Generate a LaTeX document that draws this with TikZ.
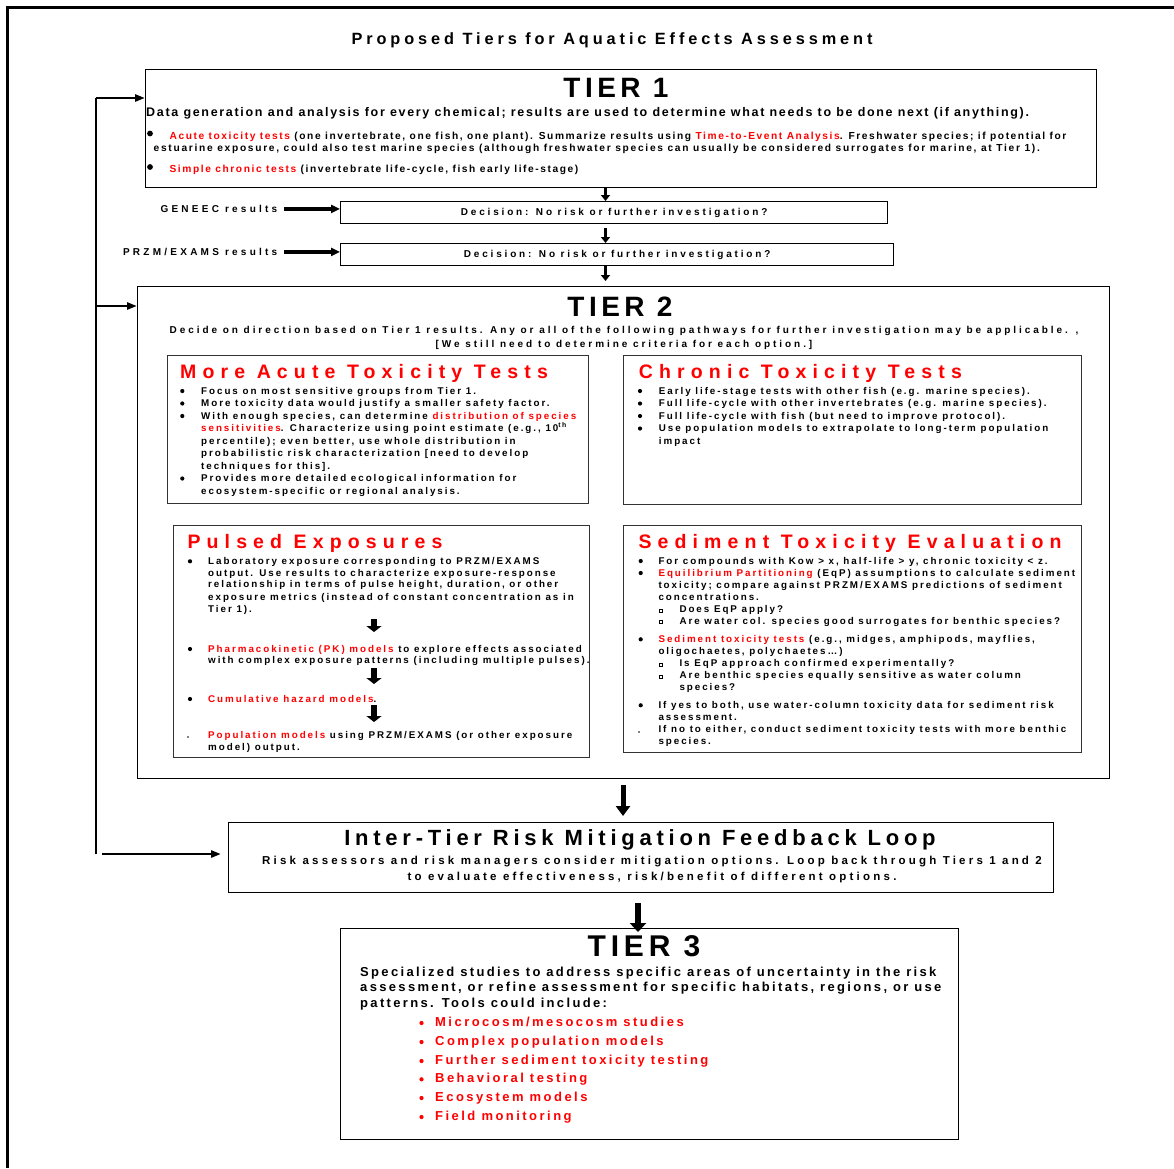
\documentclass[tikz,border=0pt]{standalone}
\usepackage{fontspec}
\setmainfont{Liberation Sans}
\newfontfamily\fTitle[LetterSpace=24]{Liberation Sans}
\newfontfamily\fTier[LetterSpace=16]{Liberation Sans}
\newfontfamily\fTone[LetterSpace=13.5]{Liberation Sans}
\newfontfamily\fTbul[LetterSpace=15.5]{Liberation Sans}
\newfontfamily\fTbulB[LetterSpace=16.8]{Liberation Sans}
\newfontfamily\fDec[LetterSpace=28.3]{Liberation Sans}
\newfontfamily\fLab[LetterSpace=32.5]{Liberation Sans}
\newfontfamily\fTtwo[LetterSpace=29.4]{Liberation Sans}
\newfontfamily\fBoxT[LetterSpace=31.5]{Liberation Sans}
\newfontfamily\fBox[LetterSpace=20]{Liberation Sans}
\newfontfamily\fFbT[LetterSpace=21.6]{Liberation Sans}
\newfontfamily\fFb[LetterSpace=28]{Liberation Sans}
\newfontfamily\fThree[LetterSpace=18]{Liberation Sans}
\newfontfamily\fThreeB[LetterSpace=19]{Liberation Sans}
\usetikzlibrary{arrows.meta}
\definecolor{tred}{RGB}{255,0,0}
\newcommand{\rd}[1]{\textcolor{tred}{#1}}
\begin{document}
\begin{tikzpicture}[x=1pt,y=-1pt,
  tbox/.style={draw, line width=1.3pt, inner sep=0pt, anchor=north west},
  sbox/.style={draw=black!80, line width=1.4pt, inner sep=0pt, anchor=north west},
  ln/.style={anchor=base west, inner sep=0pt},
  lnc/.style={anchor=base, inner sep=0pt},
  lne/.style={anchor=base east, inner sep=0pt},
  sTitle/.style={font=\fTitle\bfseries\fontsize{16.3}{18}\selectfont},
  sTier/.style={font=\fTier\bfseries\fontsize{28}{30}\selectfont},
  sTone/.style={font=\fTone\bfseries\fontsize{12.5}{14}\selectfont},
  sTbul/.style={font=\fTbul\bfseries\fontsize{10.2}{12}\selectfont},
  sTbulB/.style={font=\fTbulB\bfseries\fontsize{10.2}{12}\selectfont},
  sDec/.style={font=\fDec\bfseries\fontsize{10}{12}\selectfont},
  sLab/.style={font=\fLab\bfseries\fontsize{10}{12}\selectfont},
  sTtwo/.style={font=\fTtwo\bfseries\fontsize{10}{12}\selectfont},
  sBoxT/.style={font=\fBoxT\bfseries\fontsize{19.5}{21}\selectfont, text=tred},
  sBox/.style={font=\fBox\bfseries\fontsize{9.8}{12}\selectfont},
  sFbT/.style={font=\fFbT\bfseries\fontsize{22}{24}\selectfont},
  sFb/.style={font=\fFb\bfseries\fontsize{11.5}{13}\selectfont},
  sThree/.style={font=\fThree\bfseries\fontsize{13}{15}\selectfont},
  sThreeB/.style={font=\fThreeB\bfseries\fontsize{13}{15}\selectfont, text=tred},
  bdot/.style={circle, fill, inner sep=0pt, minimum size=4.2pt},
  bigdot/.style={circle, fill, inner sep=0pt, minimum size=5.8pt},
  rdot/.style={circle, fill=tred, inner sep=0pt, minimum size=4.2pt},
  sq/.style={draw, line width=0.7pt, inner sep=0pt, minimum size=3pt},
  tdot/.style={circle, fill, inner sep=0pt, minimum size=1.8pt},
  varr/.style={line width=3pt, -{Triangle[length=6pt,width=9pt]}},
  harr/.style={line width=3.5pt, -{Triangle[length=9pt,width=8pt]}},
  barr/.style={line width=5pt, -{Triangle[length=10pt,width=14pt]}},
  parr/.style={line width=6pt, -{Triangle[length=6pt,width=15pt]}},
  larr/.style={line width=2.5pt, -{Triangle[length=10pt,width=7pt]}},
  lline/.style={line width=2.5pt}
]
\useasboundingbox (0,0) rectangle (1174,1168);
% outer frame
\draw[line width=3pt] (7,1168) -- (7,7) -- (1174,7);

\node[lnc, sTitle] (title) at (612,44) {Proposed Tiers for Aquatic Effects Assessment};

% ---------- Tier 1
\node[tbox, minimum width=951pt, minimum height=118pt] (t1) at (145,69) {};
\node[lnc, sTier] (t1h) at (616,97.3) {TIER 1};
\node[ln, sTone] (t1a) at (146,116.7) {Data generation and analysis for every chemical; results are used to determine what needs to be done next (if anything).};
\node[bigdot] (t1d1) at (150,133.5) {};
\node[ln, sTbul] (t1b) at (169.4,139) {\rd{Acute toxicity tests} (one invertebrate, one fish, one plant). Summarize results using \rd{Time-to-Event Analysis}. Freshwater species; if potential for};
\node[ln, sTbulB] (t1c) at (153.5,151) {estuarine exposure, could also test marine species (although freshwater species can usually be considered surrogates for marine, at Tier 1).};
\node[bigdot] (t1d2) at (150,167) {};
\node[ln, sTbul] (t1e) at (169.4,172.7) {\rd{Simple chronic tests} (invertebrate life-cycle, fish early life-stage)};

% ---------- decisions
\node[tbox, minimum width=547pt, minimum height=22pt, sDec] (d1) at (340,201) {Decision: No risk or further investigation?};
\node[tbox, minimum width=553pt, minimum height=22pt, sDec] (d2) at (340,243) {Decision: No risk or further investigation?};
\node[lne, sLab] (gen) at (277.5,212.5) {GENEEC results};
\node[lne, sLab] (prz) at (277.5,255.5) {PRZM/EXAMS results};
\draw[harr, shorten <=6pt] (gen.east) -- (gen.east -| d1.west);
\draw[harr, shorten <=6pt] (prz.east) -- (prz.east -| d2.west);

% ---------- Tier 2
\node[tbox, minimum width=972pt, minimum height=492pt] (t2) at (137,286) {};
\coordinate (ax) at (605.5,0);
\draw[varr] (t1.south -| ax) -- (d1.north -| ax);
\draw[varr, shorten <=4pt] (d1.south -| ax) -- (d2.north -| ax);
\draw[varr, shorten >=5pt] (d2.south -| ax) -- (t2.north -| ax);
\node[lnc, sTier] (t2h) at (620,316) {TIER 2};
\node[lnc, sTtwo] (t2a) at (624,333.5) {Decide on direction based on Tier 1 results. Any or all of the following pathways for further investigation may be applicable. ,};
\node[lnc, sTtwo] (t2b) at (624,347.5) {[We still need to determine criteria for each option.]};

% More acute
\node[sbox, minimum width=421pt, minimum height=148pt] (ma) at (166.5,355) {};
\node[ln, sBoxT] (mah) at (180,378.7) {More Acute Toxicity Tests};
\node[bdot] (mad1) at (182.3,391) {};
\node[ln, sBox] (ma1) at (201,394) {Focus on most sensitive groups from Tier 1.};
\node[bdot] (mad2) at (182.3,403.5) {};
\node[ln, sBox] (ma2) at (201,406.5) {More toxicity data would justify a smaller safety factor.};
\node[bdot] (mad3) at (182.3,416) {};
\node[ln, sBox] (ma3a) at (201,419) {With enough species, can determine \rd{distribution of species}};
\node[ln, sBox] (ma3b) at (201,431.5) {\rd{sensitivities}. Characterize using point estimate (e.g., 10\textsuperscript{th}};
\node[ln, sBox] (ma3c) at (201,444) {percentile); even better, use whole distribution in};
\node[ln, sBox] (ma3d) at (201,456.5) {probabilistic risk characterization [need to develop};
\node[ln, sBox] (ma3e) at (201,469) {techniques for this].};
\node[bdot] (mad4) at (182.3,478.5) {};
\node[ln, sBox] (ma4a) at (201,481.5) {Provides more detailed ecological information for};
\node[ln, sBox] (ma4b) at (201,494) {ecosystem-specific or regional analysis.};

% Chronic
\node[sbox, minimum width=458pt, minimum height=148.5pt] (ch) at (623,355) {};
\node[ln, sBoxT] (chh) at (638.7,378.7) {Chronic Toxicity Tests};
\node[bdot] (chd1) at (640,391) {};
\node[ln, sBox] (ch1) at (658.7,394) {Early life-stage tests with other fish (e.g. marine species).};
\node[bdot] (chd2) at (640,403.5) {};
\node[ln, sBox] (ch2) at (658.7,406.5) {Full life-cycle with other invertebrates (e.g. marine species).};
\node[bdot] (chd3) at (640,416) {};
\node[ln, sBox] (ch3) at (658.7,419) {Full life-cycle with fish (but need to improve protocol).};
\node[bdot] (chd4) at (640,428.5) {};
\node[ln, sBox] (ch4a) at (658.7,431.5) {Use population models to extrapolate to long-term population};
\node[ln, sBox] (ch4b) at (658.7,444) {impact};

% Pulsed
\node[sbox, minimum width=415.5pt, minimum height=232pt] (pe) at (173,525) {};
\node[ln, sBoxT] (peh) at (187.3,548.3) {Pulsed Exposures};
\node[bdot] (ped1) at (190,561.3) {};
\node[ln, sBox] (pe1a) at (208,564.3) {Laboratory exposure corresponding to PRZM/EXAMS};
\node[ln, sBox] (pe1b) at (208,576) {output. Use results to characterize exposure-response};
\node[ln, sBox] (pe1c) at (208,587.7) {relationship in terms of pulse height, duration, or other};
\node[ln, sBox] (pe1d) at (208,600) {exposure metrics (instead of constant concentration as in};
\node[ln, sBox] (pe1e) at (208,612.3) {Tier 1).};
\node[bdot] (ped2) at (190,649) {};
\node[ln, sBox] (pe2a) at (208,652) {\rd{Pharmacokinetic (PK) models} to explore effects associated};
\node[ln, sBox] (pe2b) at (208,663.7) {with complex exposure patterns (including multiple pulses).};
\node[bdot] (ped3) at (190,699) {};
\node[ln, sBox] (pe3) at (208,702) {\rd{Cumulative hazard models}.};
\node[tdot] (ped4) at (188,737) {};
\node[ln, sBox] (pe4a) at (208,738) {\rd{Population models} using PRZM/EXAMS (or other exposure};
\node[ln, sBox] (pe4b) at (208,750) {model) output.};
\coordinate (pa1) at (374,619);  \coordinate (pa1e) at (374,632);
\coordinate (pa2) at (374,668);  \coordinate (pa2e) at (374,684);
\coordinate (pa3) at (374,705);  \coordinate (pa3e) at (374,722);
\draw[parr] (pa1) -- (pa1e);
\draw[parr] (pa2) -- (pa2e);
\draw[parr] (pa3) -- (pa3e);

% Sediment
\node[sbox, minimum width=457.5pt, minimum height=226.5pt] (se) at (623,525) {};
\node[ln, sBoxT] (seh) at (638.3,548.3) {Sediment Toxicity Evaluation};
\node[bdot] (sed1) at (640.7,561) {};
\node[ln, sBox] (se1) at (658.3,564) {For compounds with Kow > x, half-life > y, chronic toxicity < z.};
\node[bdot] (sed2) at (640.7,573) {};
\node[ln, sBox] (se2a) at (658.3,576) {\rd{Equilibrium Partitioning} (EqP) assumptions to calculate sediment};
\node[ln, sBox] (se2b) at (658.3,588.3) {toxicity; compare against PRZM/EXAMS predictions of sediment};
\node[ln, sBox] (se2c) at (658.3,600.3) {concentrations.};
\node[sq] (sq1) at (661,610.5) {};
\node[ln, sBox] (ss1) at (679.3,612.7) {Does EqP apply?};
\node[sq] (sq2) at (661,622.3) {};
\node[ln, sBox] (ss2) at (679.3,624.3) {Are water col. species good surrogates for benthic species?};
\node[bdot] (sed3) at (640.7,639.3) {};
\node[ln, sBox] (se3a) at (658.3,642.3) {\rd{Sediment toxicity tests} (e.g., midges, amphipods, mayflies,};
\node[ln, sBox] (se3b) at (658.3,654.3) {oligochaetes, polychaetes…)};
\node[sq] (sq3) at (661,664.5) {};
\node[ln, sBox] (ss3) at (679.3,666.7) {Is EqP approach confirmed experimentally?};
\node[sq] (sq4) at (661,676.5) {};
\node[ln, sBox] (ss4a) at (679.3,678.7) {Are benthic species equally sensitive as water column};
\node[ln, sBox] (ss4b) at (679.3,690.7) {species?};
\node[bdot] (sed4) at (640.7,705.3) {};
\node[ln, sBox] (se4a) at (658.3,708.3) {If yes to both, use water-column toxicity data for sediment risk};
\node[ln, sBox] (se4b) at (658.3,720.3) {assessment.};
\node[tdot] (sed5) at (639,732) {};
\node[ln, sBox] (se5a) at (658.3,732.7) {If no to either, conduct sediment toxicity tests with more benthic};
\node[ln, sBox] (se5b) at (658.3,744.3) {species.};

% ---------- Feedback loop
\node[tbox, minimum width=825pt, minimum height=70pt] (fb) at (228,822) {};
\node[lnc, sFbT] (fbh) at (640,845.5) {Inter-Tier Risk Mitigation Feedback Loop};
\node[lnc, sFb] (fb1) at (652,864) {Risk assessors and risk managers consider mitigation options. Loop back through Tiers 1 and 2};
\node[lnc, sFb] (fb2) at (652,880) {to evaluate effectiveness, risk/benefit of different options.};
\coordinate (bx) at (623,0);
\draw[barr, shorten <=6pt, shorten >=6pt] (t2.south -| bx) -- (fb.north -| bx);

% ---------- Tier 3
\node[tbox, minimum width=618pt, minimum height=211pt] (t3) at (340,928) {};
\node[lnc, sTier, font=\fTier\bfseries\fontsize{30}{32}\selectfont] (t3h) at (644,956.7) {TIER 3};
\node[ln, sThree] (t3a) at (360,976) {Specialized studies to address specific areas of uncertainty in the risk};
\node[ln, sThree] (t3b) at (360,991.7) {assessment, or refine assessment for specific habitats, regions, or use};
\node[ln, sThree] (t3c) at (360,1007.3) {patterns. Tools could include:};
\node[rdot] (rd1) at (421.5,1023) {};
\node[ln, sThreeB] (r1) at (435,1026) {Microcosm/mesocosm studies};
\node[rdot] (rd2) at (421.5,1042) {};
\node[ln, sThreeB] (r2) at (435,1045) {Complex population models};
\node[rdot] (rd3) at (421.5,1061) {};
\node[ln, sThreeB] (r3) at (435,1064) {Further sediment toxicity testing};
\node[rdot] (rd4) at (421.5,1079.3) {};
\node[ln, sThreeB] (r4) at (435,1082.3) {Behavioral testing};
\node[rdot] (rd5) at (421.5,1098) {};
\node[ln, sThreeB] (r5) at (435,1101) {Ecosystem models};
\node[rdot] (rd6) at (421.5,1117) {};
\node[ln, sThreeB] (r6) at (435,1120) {Field monitoring};
\coordinate (cx) at (638,0);
\draw[barr, line width=6pt, -{Triangle[length=9pt,width=16pt]}, shorten <=10pt, shorten >=-4pt] (fb.south -| cx) -- (t3.north -| cx);

% ---------- loop-back lines
\coordinate (lt) at (96,98);
\coordinate (lm) at (96,306);
\coordinate (lb) at (96,854);
\coordinate (lb2) at (102,854);
\draw[lline] (lb) -- (lt);
\draw[larr] (lt) -- (lt -| t1.west);
\draw[larr] (lm) -- (lm -| t2.west);
\draw[larr, shorten >=7pt] (lb2) -- (lb2 -| fb.west);
\end{tikzpicture}
\end{document}
